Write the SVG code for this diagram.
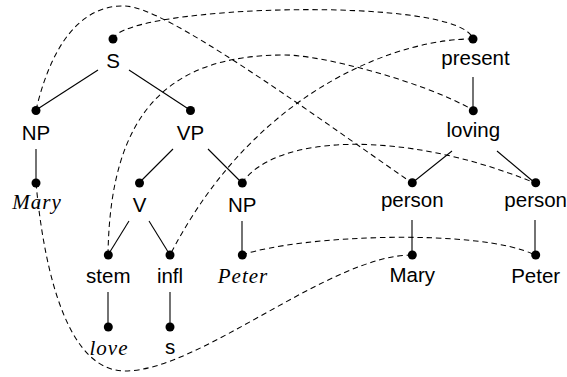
<svg xmlns="http://www.w3.org/2000/svg" width="567" height="377" viewBox="0 0 567 377">
<style>
.sf{font-family:"Liberation Sans",Arial,sans-serif;font-size:20.5px;fill:#000;text-anchor:middle}
.it{font-family:"Liberation Serif","Times New Roman",serif;font-style:italic;font-size:21px;letter-spacing:1px;fill:#000;text-anchor:middle}
.e{stroke:#000;stroke-width:1.1;fill:none}
.d{stroke:#000;stroke-width:1.05;fill:none;stroke-dasharray:5.5 3.8}
.dot{fill:#000}
</style>
<rect width="567" height="377" fill="#fff"/>
<g id="connectors">
<line class="e" x1="98" y1="70" x2="36" y2="110"/>
<line class="e" x1="129" y1="70" x2="190" y2="110"/>
<line class="e" x1="36" y1="149" x2="36" y2="183"/>
<line class="e" x1="173" y1="149" x2="139" y2="183"/>
<line class="e" x1="208" y1="149" x2="242" y2="183"/>
<line class="e" x1="129" y1="221" x2="108" y2="255"/>
<line class="e" x1="149" y1="221" x2="170" y2="255"/>
<line class="e" x1="242" y1="221" x2="242" y2="255"/>
<line class="e" x1="108" y1="292" x2="108" y2="327"/>
<line class="e" x1="170" y1="292" x2="170" y2="327"/>
<line class="e" x1="473" y1="77" x2="473" y2="110"/>
<line class="e" x1="452" y1="151" x2="412" y2="183"/>
<line class="e" x1="497" y1="151" x2="535" y2="183"/>
<line class="e" x1="412" y1="220" x2="412" y2="255"/>
<line class="e" x1="535" y1="220" x2="535" y2="255"/>
<path class="d" d="M113,39 C125,5 460,-5 473,39"/>
<path class="d" d="M36,110 C55,30 90,5 125,6 C165,7 300,105 412,183"/>
<path class="d" d="M473,39 C410,38 260,80 170,255"/>
<path class="d" d="M108,255 C110,110 170,55 285,55 C320,55 420,80 473,110"/>
<path class="d" d="M242,183 C275,135 400,128 535,183"/>
<path class="d" d="M242,255 C300,235 480,228 535,255"/>
<path class="d" d="M36,183 C45,280 70,371 125,371 C200,371 330,255 412,255"/>
</g>
<g id="n-S"><circle class="dot" cx="113" cy="39" r="4.5"/><text class="sf" x="113" y="67.5">S</text></g>
<g id="n-NP1"><circle class="dot" cx="36" cy="110.5" r="4.5"/><text class="sf" x="36" y="139.5">NP</text></g>
<g id="n-VP"><circle class="dot" cx="190.5" cy="110.5" r="4.5"/><text class="sf" x="190.5" y="139.5">VP</text></g>
<g id="n-Mary-it"><circle class="dot" cx="36" cy="183" r="4.5"/><text class="it" x="37" y="209">Mary</text></g>
<g id="n-V"><circle class="dot" cx="139.5" cy="183" r="4.5"/><text class="sf" x="139.5" y="211.5">V</text></g>
<g id="n-NP2"><circle class="dot" cx="242.3" cy="183" r="4.5"/><text class="sf" x="242.3" y="211.5">NP</text></g>
<g id="n-stem"><circle class="dot" cx="108.3" cy="255" r="4.5"/><text class="sf" x="108.3" y="282.7">stem</text></g>
<g id="n-infl"><circle class="dot" cx="170" cy="255" r="4.5"/><text class="sf" x="170" y="282.7">infl</text></g>
<g id="n-Peter-it"><circle class="dot" cx="242.3" cy="255" r="4.5"/><text class="it" x="243" y="283">Peter</text></g>
<g id="n-love"><circle class="dot" cx="108.3" cy="327" r="4.5"/><text class="it" x="109" y="355">love</text></g>
<g id="n-s"><circle class="dot" cx="170" cy="327" r="4.5"/><text class="sf" x="170" y="354">s</text></g>
<g id="n-present"><circle class="dot" cx="473" cy="39" r="4.5"/><text class="sf" x="475.5" y="65">present</text></g>
<g id="n-loving"><circle class="dot" cx="473.3" cy="110.7" r="4.5"/><text class="sf" x="473.3" y="137">loving</text></g>
<g id="n-person1"><circle class="dot" cx="412.3" cy="182.7" r="4.5"/><text class="sf" x="412.3" y="206.7">person</text></g>
<g id="n-person2"><circle class="dot" cx="535.7" cy="182.7" r="4.5"/><text class="sf" x="535.7" y="206.7">person</text></g>
<g id="n-Mary"><circle class="dot" cx="412.3" cy="255" r="4.5"/><text class="sf" x="412.3" y="281.7">Mary</text></g>
<g id="n-Peter"><circle class="dot" cx="535.7" cy="255" r="4.5"/><text class="sf" x="535.7" y="283">Peter</text></g>
</svg>
